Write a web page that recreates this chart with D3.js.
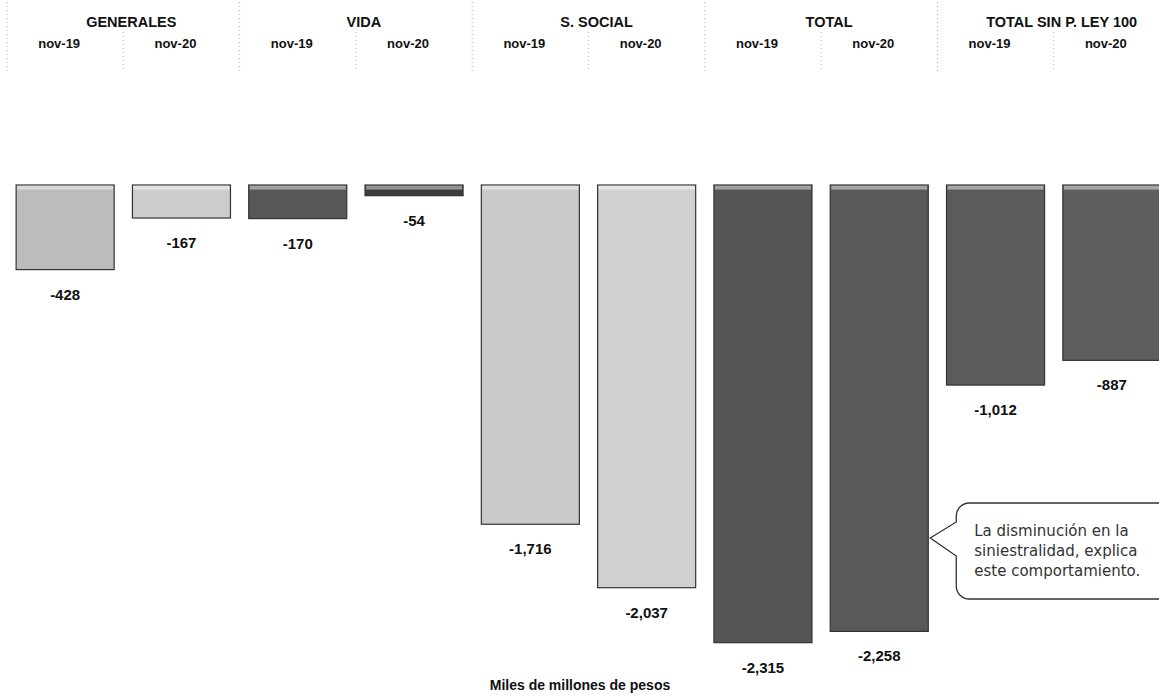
<!DOCTYPE html>
<html>
<head>
<meta charset="utf-8">
<script src="https://cdn.jsdelivr.net/npm/d3@7"></script>
<style>
  body { margin: 0; background: #fff; }
  svg { display: block; }
</style>
</head>
<body>
<div id="chart"></div>
<script>
// groups and values (miles de millones de pesos)
var groups = ["GENERALES", "VIDA", "S. SOCIAL", "TOTAL", "TOTAL SIN P. LEY 100"];
var periods = ["nov-19", "nov-20"];
var nov19 = [-428, -170, -1716, -2315, -1012];
var nov20 = [-167, -54, -2037, -2258, -887];
var unitLabel = "Miles de millones de pesos";
var noteLines = ["La disminución en la", "siniestralidad, explica", "este comportamiento."];

(function() {
    var width = 1159;
    var height = 696;
    var baseY = 185;

    // one record per bar
    var bars = [];
    groups.forEach(function(g, i) {
        bars.push({group: g, period: periods[0], key: g + "|" + periods[0], value: nov19[i]});
        bars.push({group: g, period: periods[1], key: g + "|" + periods[1], value: nov20[i]});
    });

    var svg = d3.select("#chart")
        .append("svg")
        .attr("width", width)
        .attr("height", height);

    var x = d3.scaleBand()
        .domain(bars.map(d => d.key))
        .range([7, 1170])
        .paddingInner(0.157)
        .paddingOuter(0.0785);

    var y = d3.scaleLinear()
        .domain([0, -2500])
        .range([baseY, baseY + 2500 * 0.1977]);

    // bar shades, light and dark like the scanned original
    var shade = {
        "GENERALES|nov-19": "#bcbcbc",
        "GENERALES|nov-20": "#cdcdcd",
        "VIDA|nov-19": "#575757",
        "VIDA|nov-20": "#3c3c3c",
        "S. SOCIAL|nov-19": "#c9c9c9",
        "S. SOCIAL|nov-20": "#d0d0d0",
        "TOTAL|nov-19": "#555555",
        "TOTAL|nov-20": "#595959",
        "TOTAL SIN P. LEY 100|nov-19": "#5b5b5b",
        "TOTAL SIN P. LEY 100|nov-20": "#5e5e5e"
    };

    var fmt = d3.formatLocale({decimal: ".", thousands: ",", grouping: [3], currency: ["$", ""], minus: "-"}).format(",");

    var step = x.step();
    var gap = step - x.bandwidth();

    // header grid (faint dotted lines)
    var grid = svg.append("g")
        .attr("stroke", "#b5b5b5")
        .attr("stroke-width", 1)
        .attr("stroke-dasharray", "1,3");

    grid.append("line")
        .attr("x1", x(bars[0].key) - gap / 2).attr("x2", x(bars[0].key) - gap / 2)
        .attr("y1", 2).attr("y2", 74);

    bars.forEach(function(d, i) {
        var xr = x(d.key) + x.bandwidth() + gap / 2;
        if (i === bars.length - 1) return;
        if (i % 2 === 1) {
            grid.append("line").attr("x1", xr).attr("x2", xr).attr("y1", 2).attr("y2", 74);
        } else {
            grid.append("line").attr("x1", xr).attr("x2", xr).attr("y1", 32).attr("y2", 70);
        }
    });

    // group titles
    svg.append("g")
        .selectAll("text")
        .data(groups)
        .join("text")
            .attr("x", (g, i) => (x(bars[2 * i].key) + x(bars[2 * i + 1].key) + x.bandwidth()) / 2 + 8)
            .attr("y", 27)
            .attr("text-anchor", "middle")
            .attr("font-family", "'Liberation Sans', Arial, sans-serif")
            .attr("font-weight", "bold")
            .attr("font-size", "14.5px")
            .attr("fill", "#111")
            .text(g => g);

    // period sub headers
    svg.append("g")
        .selectAll("text")
        .data(bars)
        .join("text")
            .attr("x", d => x(d.key) + x.bandwidth() / 2 - 6)
            .attr("y", 48)
            .attr("text-anchor", "middle")
            .attr("font-family", "'Liberation Sans', Arial, sans-serif")
            .attr("font-weight", "bold")
            .attr("font-size", "13px")
            .attr("fill", "#111")
            .text(d => d.period);

    // bars
    var barG = svg.append("g")
        .selectAll("g")
        .data(bars)
        .join("g");

    barG.append("rect")
        .attr("x", d => x(d.key))
        .attr("y", y(0))
        .attr("width", x.bandwidth())
        .attr("height", d => y(d.value) - y(0))
        .attr("fill", d => shade[d.key])
        .attr("stroke", "#333")
        .attr("stroke-width", 1.2);

    // light top edge
    barG.append("rect")
        .attr("x", d => x(d.key) + 1)
        .attr("y", y(0) + 0.6)
        .attr("width", x.bandwidth() - 2)
        .attr("height", d => Math.min(4, y(d.value) - y(0) - 1))
        .attr("fill", "#fff")
        .attr("fill-opacity", 0.45);

    // value labels
    svg.append("g")
        .selectAll("text")
        .data(bars)
        .join("text")
            .attr("x", d => x(d.key) + x.bandwidth() / 2)
            .attr("y", d => y(d.value) + 30)
            .attr("text-anchor", "middle")
            .attr("font-family", "'Liberation Sans', Arial, sans-serif")
            .attr("font-weight", "bold")
            .attr("font-size", "15px")
            .attr("fill", "#111")
            .text(d => fmt(d.value));

    // unit note at the bottom
    svg.append("text")
        .attr("x", 580)
        .attr("y", 690)
        .attr("text-anchor", "middle")
        .attr("font-family", "'Liberation Sans', Arial, sans-serif")
        .attr("font-weight", "bold")
        .attr("font-size", "14px")
        .attr("fill", "#111")
        .text(unitLabel);

    // callout pointing at TOTAL nov-20
    var tipX = x(bars[7].key) + x.bandwidth() + 2;
    var tipY = 538;
    var left = tipX + 26;
    var top = 503, bottom = 599, r = 13;
    var p = d3.path();
    p.moveTo(width + 10, top);
    p.lineTo(left + r, top);
    p.arcTo(left, top, left, top + r, r);
    p.lineTo(left, tipY - 16);
    p.lineTo(tipX, tipY);
    p.lineTo(left, tipY + 18);
    p.lineTo(left, bottom - r);
    p.arcTo(left, bottom, left + r, bottom, r);
    p.lineTo(width + 10, bottom);

    svg.append("path")
        .attr("d", p.toString())
        .attr("fill", "#fff")
        .attr("stroke", "#333")
        .attr("stroke-width", 1.3);

    svg.append("g")
        .selectAll("text")
        .data(noteLines)
        .join("text")
            .attr("x", left + 18)
            .attr("y", (d, i) => 536 + i * 20)
            .attr("font-family", "'DejaVu Sans', sans-serif")
            .attr("font-size", "15px")
            .attr("fill", "#333")
            .text(d => d);
})();
</script>
</body>
</html>
